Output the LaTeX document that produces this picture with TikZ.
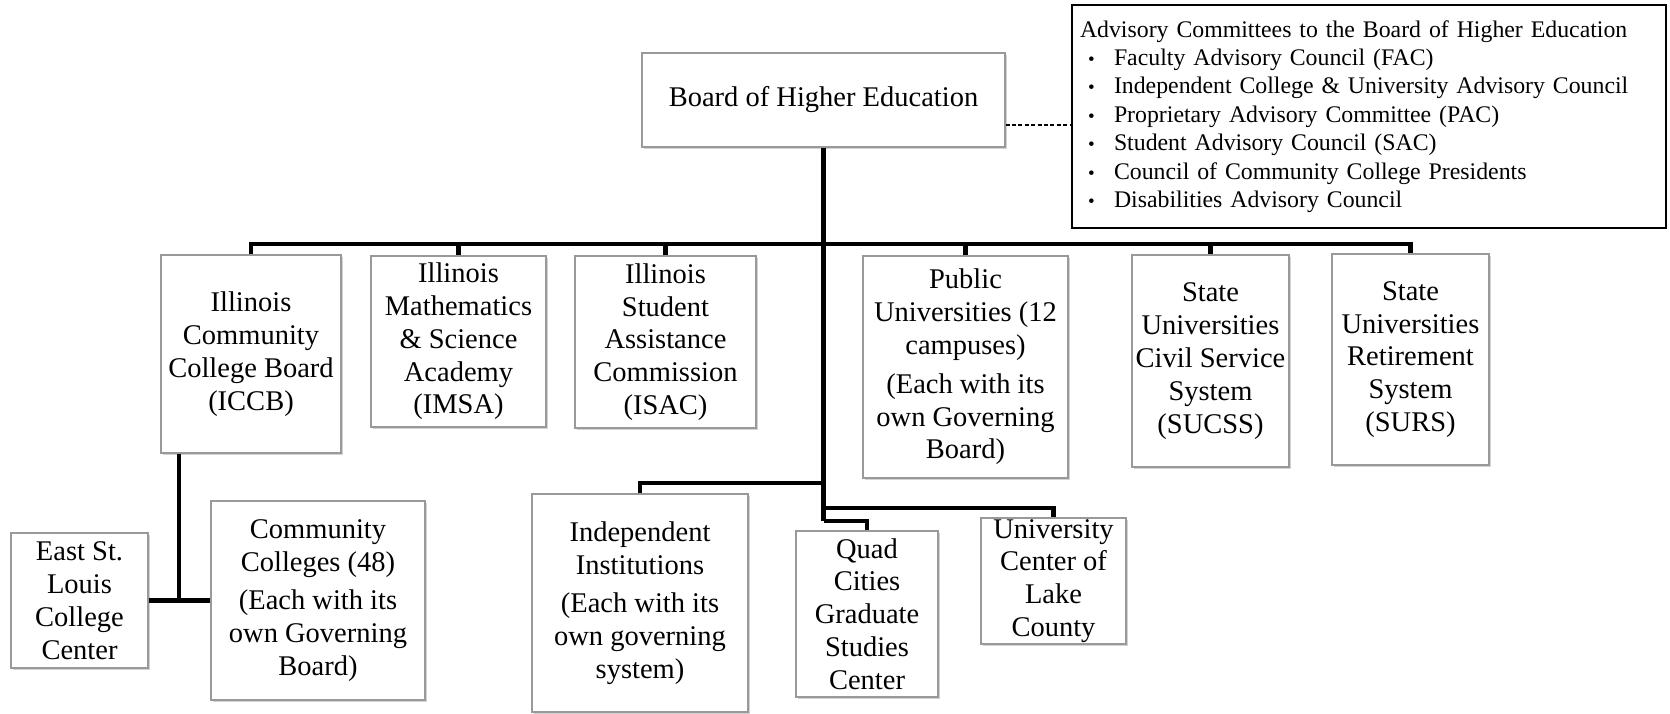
\documentclass[tikz,border=0pt]{standalone}
\usepackage{fontspec}
\setmainfont{Liberation Serif}
\usetikzlibrary{shadows}
\newcommand\advitem{\hspace*{4pt}\makebox[13pt][l]{\scalebox{0.8}{\textbullet}}}

\begin{document}
\begin{tikzpicture}[x=0.5pt, y=-0.5pt,
	box/.style={draw=black!40, line width=0.6pt, fill=white, inner sep=0pt, align=center,
		font=\fontsize{14.25}{16.4}\selectfont,
		drop shadow={shadow xshift=0.8pt, shadow yshift=-1.2pt, opacity=0.35}},
	link/.style={line width=2.2pt},
	]
	\useasboundingbox (0,0) rectangle (1670,713);
	\node[box, minimum width=181.5pt, minimum height=47pt] (board) at (823.5,100) {Board of Higher Education};
	\node[draw, line width=1pt, fill=white, align=left, inner xsep=4pt, text width=289pt,
		minimum height=111.5pt, font=\fontsize{11.9}{14.2}\selectfont] (advisory) at (1369,116.5)
		{Advisory Committees to the Board of Higher Education\\
		\advitem Faculty Advisory Council (FAC)\\
		\advitem Independent College \& University Advisory Council\\
		\advitem Proprietary Advisory Committee (PAC)\\
		\advitem Student Advisory Council (SAC)\\
		\advitem Council of Community College Presidents\\
		\advitem Disabilities Advisory Council};
	\node[box, minimum width=90pt, minimum height=99pt] (iccb) at (251,354) {Illinois\\Community\\College Board\\(ICCB)};
	\node[box, minimum width=87.5pt, minimum height=85.5pt] (imsa) at (458.5,341.5) {Illinois\\Mathematics\\\& Science\\Academy\\(IMSA)};
	\node[box, minimum width=90.5pt, minimum height=86pt] (isac) at (665.5,342) {Illinois\\Student\\Assistance\\Commission\\(ISAC)};
	\node[box, minimum width=102.5pt, minimum height=111pt] (public) at (965.5,367) {Public\\Universities (12\\campuses)\\[3pt] (Each with its\\own Governing\\Board)};
	\node[box, minimum width=78.5pt, minimum height=106pt] (sucss) at (1210.5,361) {State\\Universities\\Civil Service\\System\\(SUCSS)};
	\node[box, minimum width=78.5pt, minimum height=105.5pt] (surs) at (1410.5,359.5) {State\\Universities\\Retirement\\System\\(SURS)};
	\node[box, minimum width=68.5pt, minimum height=67.5pt] (esl) at (79.5,600.5) {East St.\\Louis\\College\\Center};
	\node[box, minimum width=107pt, minimum height=99.5pt] (cc) at (318,600.5) {Community\\Colleges (48)\\[3pt] (Each with its\\own Governing\\Board)};
	\node[box, minimum width=108pt, minimum height=109pt] (indep) at (640,603) {Independent\\Institutions\\[3pt] (Each with its\\own governing\\system)};
	\node[box, minimum width=71pt, minimum height=83pt] (quad) at (867,614) {Quad\\Cities\\Graduate\\Studies\\Center};
	\node[box, minimum width=72.5pt, minimum height=63pt] (uclc) at (1053.5,581) {University\\Center of\\Lake\\County};
	\coordinate (bus) at (823.5,244);
	\coordinate (jind) at (823.5,483);
	\coordinate (juclc) at (823.5,508);
	\coordinate (jquad) at (823.5,521);
	\coordinate (jcc) at (179,601);
	\draw[link] (board) to (jquad);
	\draw[link] (bus) -| (iccb);
	\draw[link] (bus) -| (imsa);
	\draw[link] (bus) -| (isac);
	\draw[link] (bus) -| (public);
	\draw[link] (bus) -| (sucss);
	\draw[link] (bus) -| (surs);
	\draw[link] (jind) -| (indep);
	\draw[link] (juclc) -| (uclc);
	\draw[link] (jquad) -| (quad);
	\draw[link] (iccb.south -| jcc) to (jcc);
	\draw[link] (esl) to (cc);
	\draw[line width=0.6pt, dash pattern=on 2pt off 1.2pt] ([yshift=-12.5pt]board.east) to ([yshift=-12.5pt]board.east -| advisory.west);
\end{tikzpicture}
\end{document}
